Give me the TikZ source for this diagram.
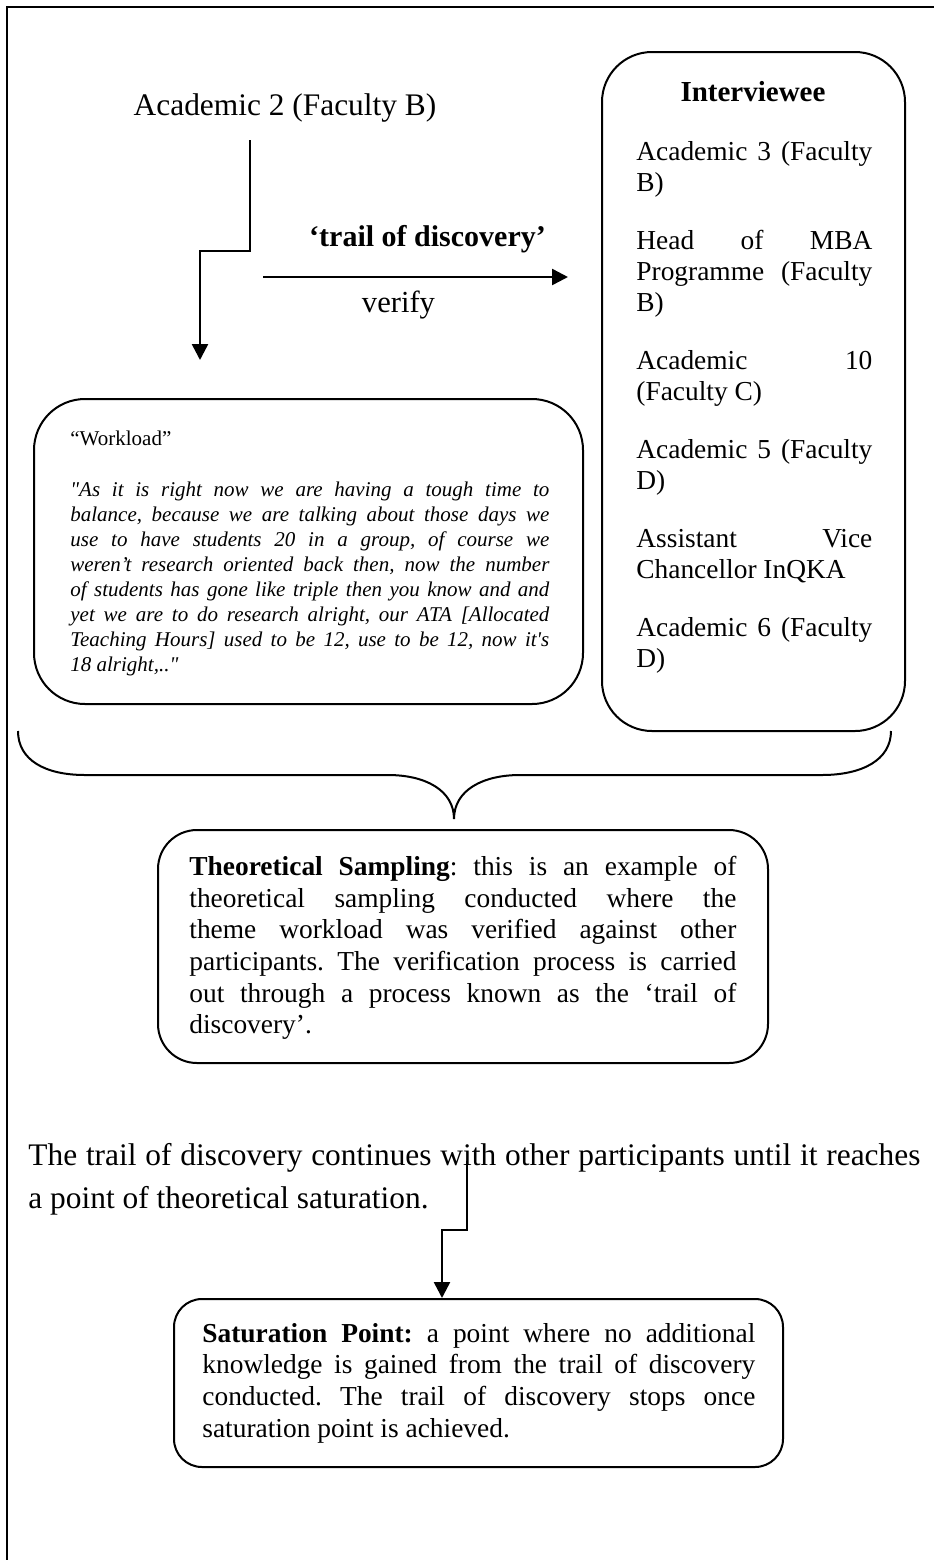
\documentclass[tikz,border=0pt]{standalone}
\usepackage{fontspec}
\defaultfontfeatures[\rmfamily]{}
\setmainfont{Liberation Serif}
\usetikzlibrary{arrows.meta}
\setlength{\parindent}{0pt}
\frenchspacing

% type sizes used in the chart
\newcommand{\fsLabel}{\fontsize{15.7pt}{21.5pt}\selectfont}
\newcommand{\fsList}{\fontsize{13.7pt}{15.5pt}\selectfont}
\newcommand{\fsBody}{\fontsize{13.7pt}{15.83pt}\selectfont}
\newcommand{\fsQuote}{\fontsize{10.5pt}{12.5pt}\selectfont}

\begin{document}
\begin{tikzpicture}[x=0.5pt, y=-0.5pt,
  box/.style={draw, line width=1pt, inner sep=0pt},
  arr/.style={line width=1.25pt, -{Triangle[length=8pt,width=8pt]}},
  para/.style={anchor=north west, inner sep=0pt, align=justify},
  lbl/.style={anchor=base, inner sep=0pt},
]
\useasboundingbox (0,0) rectangle (934,1560);

% page frame (top and left rules)
\draw[line width=1pt] (7,1560) -- (7,7) -- (934,7);

% ---- starting participant and the trail arrow
\node[lbl, font=\fsLabel] (acad2) at (285,115) {Academic 2 (Faculty B)};
\coordinate (a1) at (250,140);
\coordinate (a2) at (200,360);
\draw[arr] (a1) -- (250,251) -- (200,251) -- (a2);

\coordinate (h1) at (263,277);
\coordinate (h2) at (568,277);
\draw[arr] (h1) -- (h2);
\node[lbl, font=\fontsize{15pt}{18pt}\selectfont\bfseries] (trail) at (427.5,246) {‘trail of discovery’};
\node[lbl, font=\fontsize{15.3pt}{18pt}\selectfont] (verify) at (398.5,312) {verify};

% ---- interviewee list
\node[box, rounded corners=25pt, minimum width=151.5pt, minimum height=339.5pt] (ivbox) at (753.5,391.5) {};
\node[lbl, font=\fontsize{14.5pt}{17pt}\selectfont\bfseries] (ivhead) at (753,101.7) {Interviewee};
\node[para, text width=118pt, font=\fsList] (ivlist) at (636,138.3) {%
\strut Academic 3 (Faculty\linebreak B)\par\vspace{13.5pt}
Head of MBA\linebreak Programme (Faculty\linebreak B)\par\vspace{13.5pt}
Academic 10\linebreak (Faculty C)\par\vspace{13.5pt}
Academic 5 (Faculty\linebreak D)\par\vspace{13.5pt}
Assistant Vice\linebreak Chancellor InQKA\par\vspace{13.5pt}
Academic 6 (Faculty\linebreak D)};

% ---- workload quotation
\node[box, rounded corners=25.5pt, minimum width=274.5pt, minimum height=152.5pt] (wlbox) at (308.5,551.5) {};
\node[anchor=base west, inner sep=0pt, font=\fontsize{10.5pt}{12.5pt}\selectfont] (wlhead) at (70,445) {“Workload”};
\node[para, text width=239.5pt, font=\fsQuote\itshape] (quote) at (70,479) {%
\strut "As it is right now we are having a tough time to\linebreak
balance, because we are talking about those days we\linebreak
use to have students 20 in a group, of course we\linebreak
weren’t research oriented back then, now the number\linebreak
of students has gone like triple then you know and and\linebreak
yet we are to do research alright, our ATA [Allocated\linebreak
Teaching Hours] used to be 12, use to be 12, now it's\linebreak
18 alright,.."};

% ---- brace gathering both boxes
\draw[line width=1pt]
  (18,731) .. controls (18,760) and (45,775) .. (85,775)
  -- (388,775) .. controls (425,775) and (454,790) .. (454,819)
  .. controls (454,790) and (483,775) .. (520,775)
  -- (822,775) .. controls (862,775) and (891,760) .. (891,731);

% ---- theoretical sampling
\node[box, rounded corners=19.5pt, minimum width=305pt, minimum height=116.5pt] (tsbox) at (463,946.5) {};
\node[para, text width=273.5pt, font=\fsBody] (tstext) at (189,852.8) {%
\strut\textbf{Theoretical Sampling}: this is an example of\linebreak
theoretical sampling conducted where the\linebreak
theme workload was verified against other\linebreak
participants. The verification process is carried\linebreak
out through a process known as the ‘trail of\linebreak
discovery’.};

% ---- continuation to saturation
\node[para, text width=446pt, font=\fsLabel] (cont) at (28,1134.9) {%
\strut The trail of discovery continues with other participants until it reaches\linebreak
a point of theoretical saturation.};
\coordinate (c1) at (467,1161);
\coordinate (c2) at (442,1298);
\draw[arr] (c1) -- (467,1230) -- (442,1230) -- (c2);

\node[box, rounded corners=14pt, minimum width=304.5pt, minimum height=84pt] (satbox) at (478.5,1383) {};
\node[para, text width=276.5pt, font=\fsBody] (sattext) at (202,1319.5) {%
\strut\textbf{Saturation Point:} a point where no additional\linebreak
knowledge is gained from the trail of discovery\linebreak
conducted. The trail of discovery stops once\linebreak
saturation point is achieved.};
\end{tikzpicture}
\end{document}
